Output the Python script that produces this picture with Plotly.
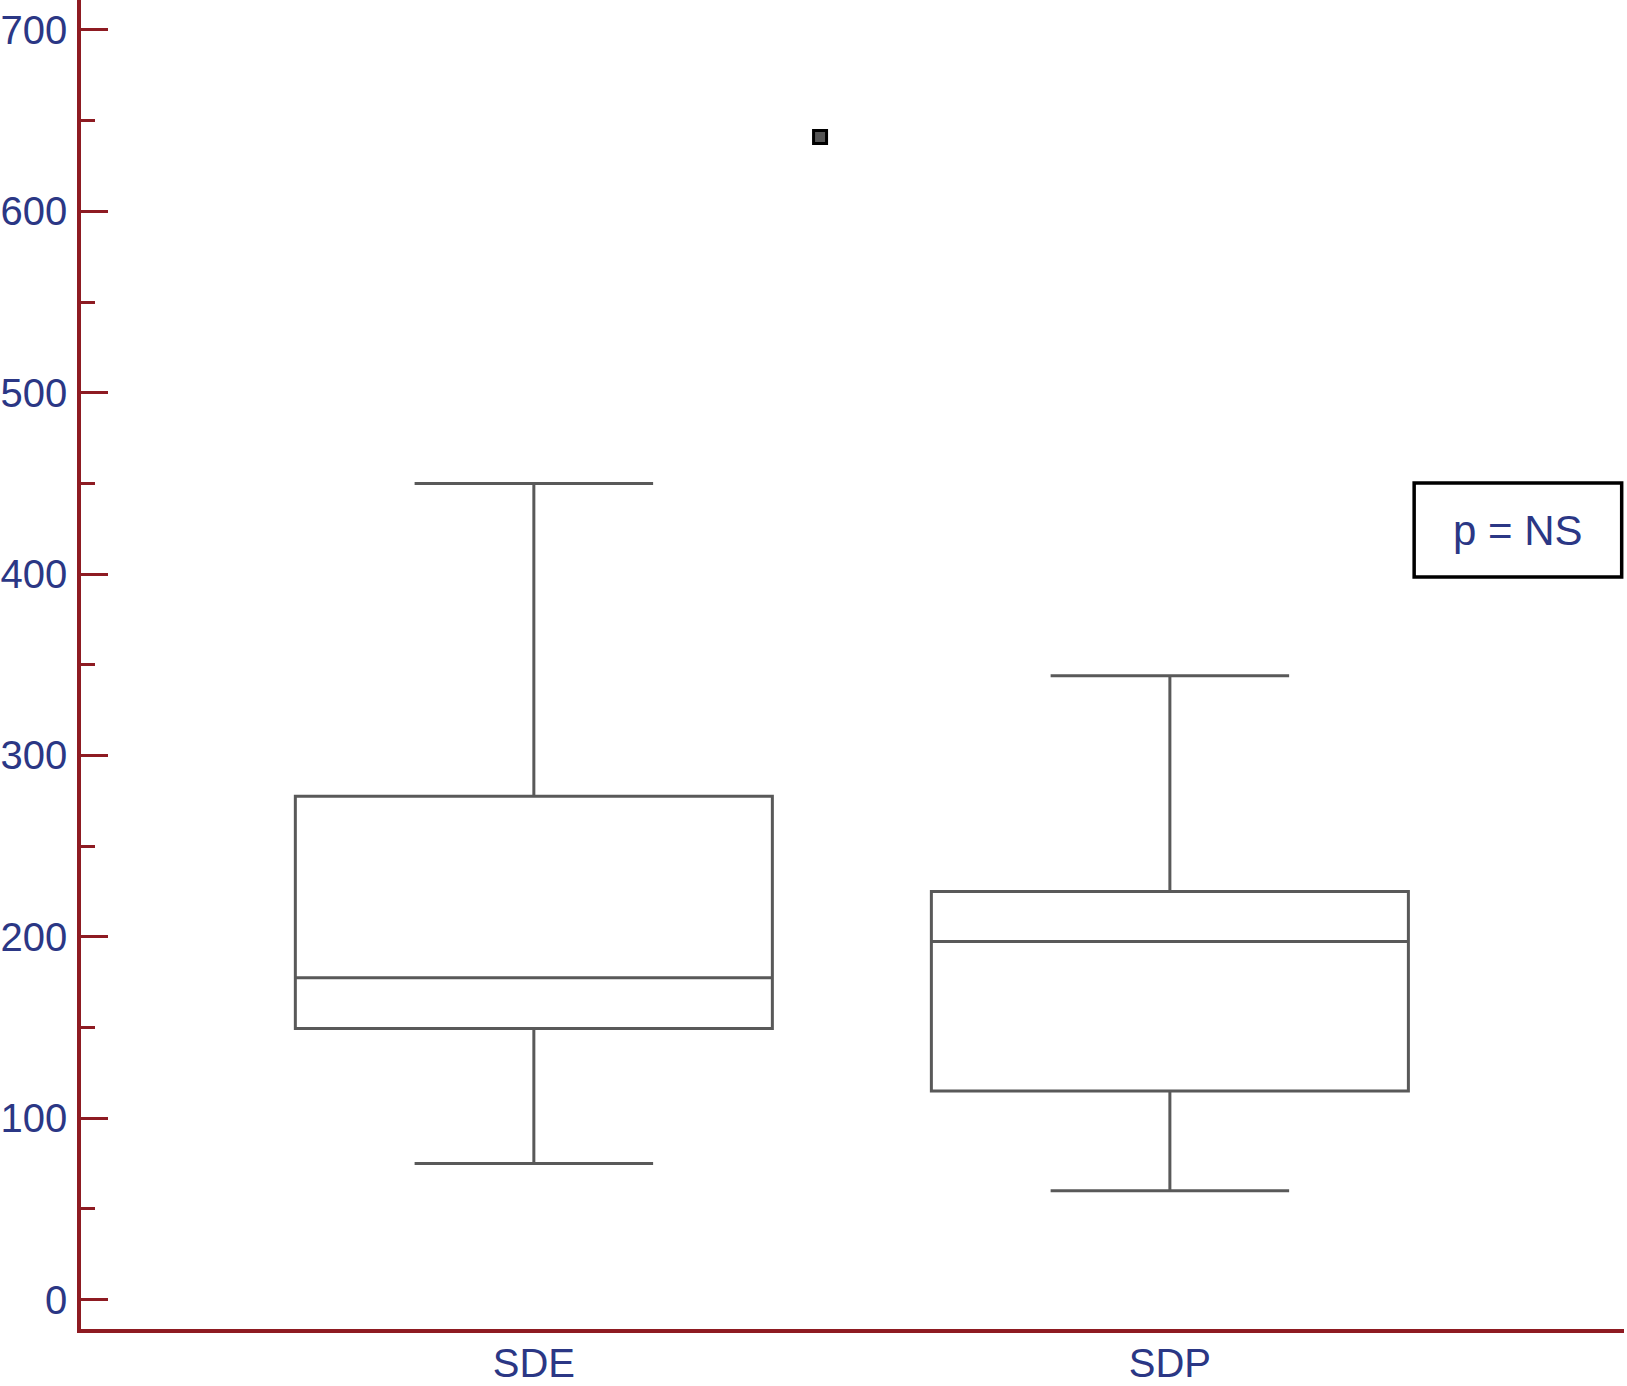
import plotly.graph_objects as go

categories = ["SDE", "SDP"]
cat_pos = [0, 1]
q1 = [149.5, 115]
median = [177.5, 197.5]
q3 = [277.5, 225]
lowerfence = [75, 60]
upperfence = [450, 344]
outlier_x = [0.45]
outlier_y = [641]

axis_red = "#8E1B22"
label_blue = "#2B3785"
box_grey = "#595959"
font_family = "Liberation Sans, Arial, Helvetica, sans-serif"

fig = go.Figure()
for i, name in enumerate(categories):
    fig.add_trace(go.Box(
        x=[cat_pos[i]], q1=[q1[i]], median=[median[i]], q3=[q3[i]],
        lowerfence=[lowerfence[i]], upperfence=[upperfence[i]],
        name=name, width=0.75, whiskerwidth=0.5,
        line=dict(color=box_grey, width=3), fillcolor="rgba(0,0,0,0)",
        boxpoints=False, showlegend=False, hoverinfo="skip",
    ))

fig.add_trace(go.Scatter(
    x=outlier_x, y=outlier_y, mode="markers",
    marker=dict(symbol="square", size=13, color="#555555",
                line=dict(color="black", width=3)),
    showlegend=False, hoverinfo="skip",
))

fig.add_shape(type="rect", xref="paper", yref="paper",
              x0=0.864, x1=0.9985, y0=0.5658, y1=0.6366,
              line=dict(color="black", width=3.5), fillcolor="rgba(0,0,0,0)")
fig.add_annotation(xref="paper", yref="paper", x=0.931, y=0.6012,
                   xanchor="center", yanchor="middle",
                   text="p = NS", showarrow=False,
                   font=dict(family=font_family, size=42, color=label_blue))

fig.update_layout(
    width=1627, height=1386,
    margin=dict(l=81, r=3, t=0, b=57, autoexpand=False),
    plot_bgcolor="white", paper_bgcolor="white",
    font=dict(family=font_family, size=40, color=label_blue),
)
fig.update_xaxes(
    range=[-0.712, 1.714], tickvals=cat_pos, ticktext=categories,
    showgrid=False, zeroline=False, showline=True, linecolor=axis_red, linewidth=3.5,
    ticks="", ticklabelstandoff=-4, automargin=False,
    tickfont=dict(family=font_family, size=40, color=label_blue),
)
fig.update_yaxes(
    range=[-16.2, 716.5], tickvals=[0, 100, 200, 300, 400, 500, 600, 700],
    showgrid=False, zeroline=False, showline=True, linecolor=axis_red, linewidth=3.5,
    ticks="inside", ticklen=27, tickwidth=3, tickcolor=axis_red,
    minor=dict(ticks="inside", ticklen=14, tickwidth=3, tickcolor=axis_red, dtick=50, showgrid=False),
    ticklabelstandoff=2, automargin=False,
    tickfont=dict(family=font_family, size=40, color=label_blue),
)

fig.write_html("out.html", config={"displayModeBar": False},
               post_script="document.body.style.margin='0';document.body.style.overflow='hidden';")
